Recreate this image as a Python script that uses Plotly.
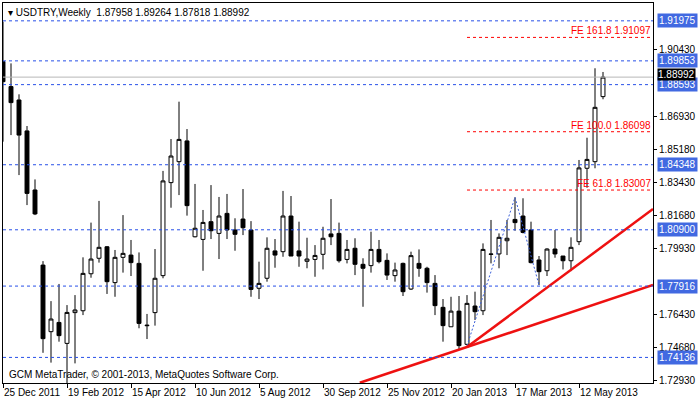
import plotly.graph_objects as go

opens = [1.8981,1.8849,1.8778,1.8614,1.8301,1.7903,1.7550,1.7599,1.7488,1.7651,1.7661,1.7857,1.7939,1.8000,1.7810,1.7944,1.7956,1.7912,1.7585,1.7651,
         1.7847,1.8340,1.8451,1.8561,1.8053,1.8039,1.8133,1.8071,1.8177,1.8089,1.8147,1.8089,1.7780,1.7833,1.7978,1.7974,1.8163,1.7978,1.7923,1.7933,
         1.7960,1.8068,1.8071,1.7933,1.7992,1.7907,1.7900,1.7986,1.7928,1.7847,1.7912,1.7776,1.7912,1.7886,1.7806,1.7679,1.7576,1.7659,1.7483,1.7686,
         1.7661,1.7962,1.7962,1.8032,1.8145,1.8163,1.8089,1.7930,1.7873,1.7988,1.7951,1.7926,1.8027,1.8416,1.8451,1.87958]
highs = [1.9193,1.8972,1.8808,1.8640,1.8357,1.7924,1.7712,1.7803,1.7691,1.7744,1.7944,1.8128,1.8243,1.8004,1.7983,1.8168,1.8036,1.7970,1.7644,1.7988,
         1.8402,1.8571,1.8769,1.8624,1.8333,1.8195,1.8327,1.8264,1.8280,1.8151,1.8306,1.8136,1.7921,1.8050,1.8041,1.8296,1.8269,1.8133,1.8048,1.8009,
         1.8106,1.8253,1.8128,1.8036,1.8045,1.7939,1.8080,1.8036,1.7965,1.7916,1.7916,1.7974,1.7986,1.7894,1.7850,1.7723,1.7735,1.7739,1.7744,1.7762,
         1.8018,1.8142,1.8071,1.8142,1.8262,1.8257,1.8133,1.7951,1.7992,1.8089,1.7951,1.8050,1.8460,1.8578,1.8946,1.89264]
lows = [1.8557,1.8592,1.8380,1.8221,1.8168,1.7438,1.7386,1.7497,1.7258,1.7382,1.7638,1.7836,1.7916,1.7750,1.7735,1.7863,1.7845,1.7568,1.7511,1.7582,
        1.7833,1.8207,1.8274,1.8165,1.8050,1.7873,1.8041,1.7935,1.8041,1.7979,1.8062,1.7735,1.7723,1.7815,1.7889,1.7947,1.7951,1.7894,1.7886,1.7841,
        1.7880,1.8009,1.7916,1.7912,1.7850,1.7682,1.7863,1.7912,1.7824,1.7815,1.7739,1.7771,1.7841,1.7757,1.7638,1.7497,1.7576,1.7453,1.7479,1.7612,
        1.7638,1.7912,1.7886,1.7956,1.8085,1.8071,1.7912,1.7797,1.7845,1.7942,1.7880,1.7871,1.8009,1.8313,1.8416,1.87818]
closes = [1.8875,1.8764,1.8592,1.8283,1.8174,1.7513,1.7617,1.7529,1.7652,1.7665,1.7859,1.7935,1.7997,1.7815,1.7944,1.7965,1.7916,1.7594,1.7582,1.7833,
          1.8349,1.8481,1.8569,1.8218,1.8098,1.8129,1.8085,1.8163,1.8089,1.8066,1.8101,1.7774,1.7806,1.7992,1.7956,1.8163,1.7951,1.7951,1.7935,1.7954,
          1.8045,1.8053,1.7926,1.7986,1.7907,1.7886,1.7986,1.7921,1.7850,1.7877,1.7762,1.7953,1.7886,1.7810,1.7688,1.7582,1.7659,1.7476,1.7700,1.7656,
          1.7986,1.7960,1.8050,1.8045,1.8128,1.8076,1.7916,1.7868,1.7988,1.7962,1.7926,1.7997,1.8418,1.8463,1.8739,1.88992]

date_labels = ["25 Dec 2011","19 Feb 2012","15 Apr 2012","10 Jun 2012","5 Aug 2012","30 Sep 2012",
               "25 Nov 2012","20 Jan 2013","17 Mar 2013","12 May 2013"]
date_idx = [0,8,16,24,32,40,48,56,64,72]

levels = [1.91975,1.89853,1.88593,1.84348,1.80900,1.77916,1.74136]
fe_levels = [1.91097,1.86098,1.83007]
fe_names = ["FE 161.8","FE 100.0","FE 61.8"]
price_ticks = [1.90430,1.86930,1.85180,1.83430,1.81680,1.79930,1.76430,1.74680,1.72930]
last_price = 1.88992

trend1_x = [58,81.25]; trend1_y = [1.7469,1.8200]
trend2_x = [44.6,81.25]; trend2_y = [1.7279,1.7798]
zig_x = [58,64,67]; zig_y = [1.7475,1.8262,1.7797]

FONT = "Liberation Sans"
FS = 10
XMAX = 81.25
fig = go.Figure()
fig.add_trace(go.Candlestick(x=list(range(len(opens))), open=opens, high=highs, low=lows, close=closes,
    increasing=dict(fillcolor="white", line=dict(color="black", width=1)),
    decreasing=dict(fillcolor="black", line=dict(color="black", width=1)),
    whiskerwidth=0, showlegend=False, hoverinfo="skip"))
fig.add_trace(go.Scatter(x=zig_x, y=zig_y, mode="lines", line=dict(color="#3a5fd9", width=1, dash="2px,2px"), showlegend=False, hoverinfo="skip"))
for tx, ty in [(trend1_x, trend1_y), (trend2_x, trend2_y)]:
    fig.add_trace(go.Scatter(x=tx, y=ty, mode="lines", line=dict(color="#ee1111", width=2.5), showlegend=False, hoverinfo="skip"))

shapes = []
for lv in levels:
    shapes.append(dict(type="line", xref="x", yref="y", x0=0, x1=XMAX, y0=lv, y1=lv, line=dict(color="#2850e8", width=1, dash="3px,3px")))
shapes.append(dict(type="line", xref="x", yref="y", x0=0, x1=XMAX, y0=last_price, y1=last_price, line=dict(color="#b8b8b8", width=1)))
for lv in fe_levels:
    shapes.append(dict(type="line", xref="x", yref="y", x0=58, x1=XMAX, y0=lv, y1=lv, line=dict(color="#ff0000", width=1, dash="3px,3px")))

ann = []
for lv, nm in zip(fe_levels, fe_names):
    ann.append(dict(x=XMAX, y=lv, xref="x", yref="y", text=f"{nm} {lv:.5f}", showarrow=False, xanchor="right", yanchor="bottom",
                    font=dict(family=FONT, size=FS, color="#ff0000"), yshift=-1))
for lv in levels:
    ann.append(dict(x=1, y=lv, xref="paper", yref="y", text=f"{lv:.5f}", showarrow=False, xanchor="left", xshift=4,
                    bgcolor="#4169e1", font=dict(family=FONT, size=FS, color="white"), borderpad=1))
ann.append(dict(x=1, y=last_price, xref="paper", yref="y", text=f"{last_price:.5f}", showarrow=False, xanchor="left", xshift=4, yshift=3,
                bgcolor="black", font=dict(family=FONT, size=FS, color="white"), borderpad=0))
for i, lab in zip(date_idx, date_labels):
    ann.append(dict(x=i, y=0, xref="x", yref="paper", text=lab, showarrow=False, xanchor="left", yanchor="top", yshift=-2, xshift=-1,
                    font=dict(family=FONT, size=FS, color="black")))
ann.append(dict(x=0, y=1, xref="paper", yref="paper", text="▾ USDTRY,Weekly  1.87958 1.89264 1.87818 1.88992", showarrow=False,
                xanchor="left", yanchor="top", xshift=3, yshift=-2, font=dict(family=FONT, size=FS, color="black")))
ann.append(dict(x=0, y=0, xref="paper", yref="paper", text="GCM MetaTrader, © 2001-2013, MetaQuotes Software Corp.", showarrow=False,
                xanchor="left", yanchor="bottom", xshift=4, yshift=1, font=dict(family=FONT, size=FS, color="black")))

fig.update_layout(width=700, height=402, margin=dict(l=3, r=47, t=3, b=19), paper_bgcolor="white", plot_bgcolor="white",
    shapes=shapes, annotations=ann, showlegend=False, hovermode=False,
    xaxis=dict(range=[0, XMAX], rangeslider=dict(visible=False), showgrid=False, zeroline=False, showline=True, linecolor="black", mirror=True,
               tickvals=date_idx, ticktext=[""]*len(date_idx), ticks="outside", ticklen=4, tickcolor="black"),
    yaxis=dict(range=[1.7278, 1.9292], side="right", showgrid=False, zeroline=False, showline=True, linecolor="black", mirror=True,
               tickvals=price_ticks, ticktext=[f"{t:.5f}" for t in price_ticks], ticks="outside", ticklen=3, tickcolor="black",
               tickfont=dict(family=FONT, size=FS, color="black")))
fig.write_html("out.html", config={"displayModeBar": False})
with open("out.html", encoding="utf-8") as f:
    html = f.read()
html = html.replace("<body>", '<body style="margin:0;padding:0;overflow:hidden">', 1)
with open("out.html", "w", encoding="utf-8") as f:
    f.write(html)
